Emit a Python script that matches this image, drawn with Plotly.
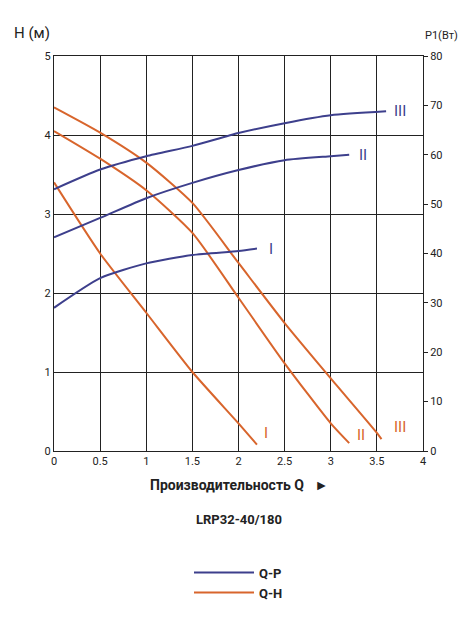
import plotly.graph_objects as go

# Q-H curves (left axis, H in m)
q_h1 = [0, 0.5, 1, 1.5, 2, 2.2]
h1 = [3.4, 2.5, 1.75, 1.0, 0.35, 0.08]
q_h2 = [0, 0.5, 1, 1.5, 2, 2.5, 3, 3.2]
h2 = [4.05, 3.7, 3.3, 2.76, 1.94, 1.11, 0.35, 0.1]
q_h3 = [0, 0.5, 1, 1.5, 2, 2.5, 3, 3.5, 3.55]
h3 = [4.35, 4.03, 3.65, 3.14, 2.38, 1.62, 0.92, 0.23, 0.15]

# Q-P curves (right axis, P1 in W)
q_p1 = [0, 0.5, 1, 1.5, 2, 2.2]
p1 = [29, 35, 38, 39.7, 40.5, 41]
q_p2 = [0, 0.5, 1, 1.5, 2, 2.5, 3, 3.2]
p2 = [43.3, 47.2, 51.2, 54.3, 56.9, 58.9, 59.7, 60]
q_p3 = [0, 0.5, 1, 1.5, 2, 2.5, 3, 3.6]
p3 = [53, 57, 59.7, 61.8, 64.4, 66.4, 68, 68.8]

blue = "#3d3f8c"
orange = "#d8652c"

fig = go.Figure()
for i, (x, y) in enumerate([(q_h1, h1), (q_h2, h2), (q_h3, h3)]):
    fig.add_trace(go.Scatter(x=x, y=y, mode="lines",
                             line=dict(color=orange, width=2, shape="spline", smoothing=0.6),
                             name="<b>Q-H</b>", showlegend=(i == 0), legendrank=2))
for i, (x, y) in enumerate([(q_p1, p1), (q_p2, p2), (q_p3, p3)]):
    fig.add_trace(go.Scatter(x=x, y=y, mode="lines", yaxis="y2",
                             line=dict(color=blue, width=2, shape="spline", smoothing=0.6),
                             name="<b>Q-P</b>", showlegend=(i == 0), legendrank=1))

labels = [(2.35, 41, "I", blue, "y2"), (3.35, 60, "II", blue, "y2"), (3.75, 68.8, "III", blue, "y2"),
          (2.3, 0.23, "I", orange, "y"), (3.33, 0.2, "II", orange, "y"), (3.75, 0.3, "III", orange, "y")]
for x, y, t, c, ya in labels:
    fig.add_annotation(x=x, y=y, yref=ya, text=t, showarrow=False, font=dict(color=c, size=15))

fig.add_annotation(x=0, y=1.03, xref="paper", yref="paper", text="H (м)", showarrow=False,
                   font=dict(size=15), xanchor="right", xshift=-2, yanchor="bottom")
fig.add_annotation(x=1, y=1.03, xref="paper", yref="paper", text="P1(Вт)", showarrow=False,
                   font=dict(size=11), xanchor="left", yanchor="bottom")
fig.add_annotation(x=4.05, y=0, text="Q(м³/ч)", showarrow=False, xanchor="left", yanchor="top",
                   yshift=-2, font=dict(size=11))
fig.add_annotation(x=0.5, y=-0.06, xref="paper", yref="paper", text="<b>Производительность Q   ►</b>",
                   showarrow=False, font=dict(size=14), yanchor="top")
fig.add_annotation(x=0.5, y=-0.15, xref="paper", yref="paper", text="<b>LRP32-40/180</b>",
                   showarrow=False, font=dict(size=13), yanchor="top")

fig.update_layout(
    width=473, height=617, plot_bgcolor="white", paper_bgcolor="white",
    font=dict(family="Roboto, Arial", color="#222", size=11),
    margin=dict(l=46, r=58, t=48, b=174, autoexpand=False),
    xaxis=dict(range=[0, 4], dtick=0.5, showgrid=True, gridcolor="#222", gridwidth=1,
               linecolor="#222", mirror=True, ticks="", zeroline=False),
    yaxis=dict(range=[0, 5], dtick=1, showgrid=True, gridcolor="#222", linecolor="#222",
               mirror=True, zeroline=False),
    yaxis2=dict(range=[0, 80], dtick=10, overlaying="y", side="right", showgrid=False,
                ticks="outside", ticklen=4, tickcolor="#222", zeroline=False),
    legend=dict(x=0.5, y=-0.27, xanchor="center", yanchor="top", font=dict(size=13),
                itemwidth=60, traceorder="normal"),
)
fig.write_html("out.html")
